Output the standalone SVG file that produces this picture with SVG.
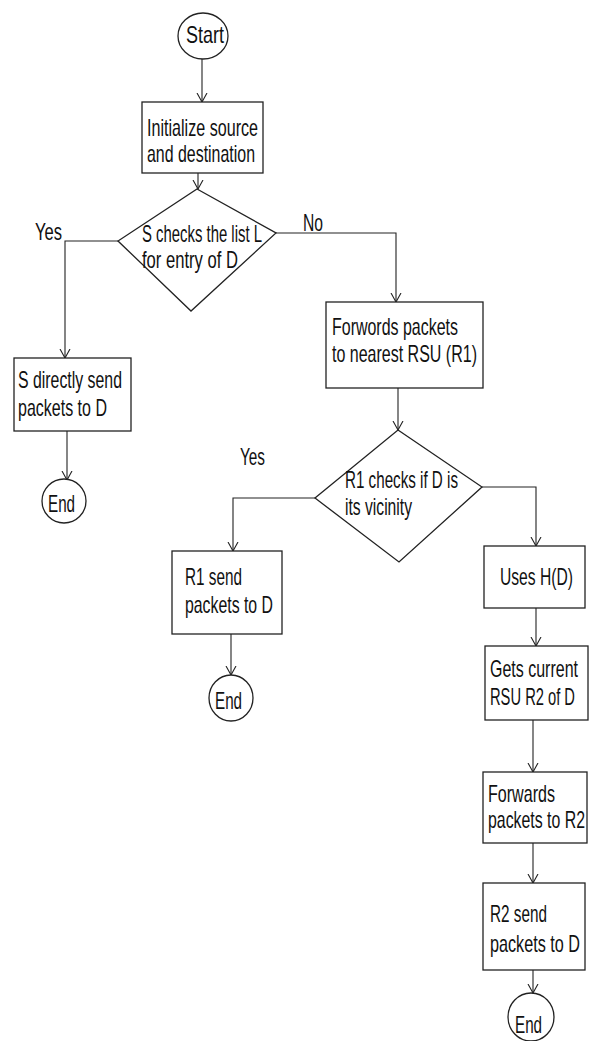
<svg xmlns="http://www.w3.org/2000/svg" width="591" height="1041" viewBox="0 0 591 1041">
<style>
.shape{fill:#fff;stroke:#222;stroke-width:1.3}
.conn{fill:none;stroke:#222;stroke-width:1.1}
text{font-family:"Liberation Sans",Arial,sans-serif;font-size:23px;fill:#111}
</style>
<defs>
<marker id="arr" markerUnits="userSpaceOnUse" viewBox="0 0 10 12" refX="9" refY="6" markerWidth="10" markerHeight="12" orient="auto">
<path d="M0,1 L9,6 L0,11" fill="none" stroke="#222" stroke-width="1.1"/>
</marker>
</defs>
<rect x="0" y="0" width="591" height="1041" fill="#fff"/>
<g id="connectors">
<path class="conn" d="M202,59 L202,102" marker-end="url(#arr)"/>
<path class="conn" d="M198,173 L198,189" marker-end="url(#arr)"/>
<path class="conn" d="M118,241 L65,241 L65,358" marker-end="url(#arr)"/>
<path class="conn" d="M276,233 L396,233 L396,302" marker-end="url(#arr)"/>
<path class="conn" d="M67,431 L67,480" marker-end="url(#arr)"/>
<path class="conn" d="M398,388 L398,430" marker-end="url(#arr)"/>
<path class="conn" d="M315,498 L233,498 L233,551" marker-end="url(#arr)"/>
<path class="conn" d="M482,487 L536,487 L536,546" marker-end="url(#arr)"/>
<path class="conn" d="M231,634 L231,675" marker-end="url(#arr)"/>
<path class="conn" d="M536,608 L536,646" marker-end="url(#arr)"/>
<path class="conn" d="M533,720 L533,772" marker-end="url(#arr)"/>
<path class="conn" d="M533,843 L533,883" marker-end="url(#arr)"/>
<path class="conn" d="M533,970 L533,993" marker-end="url(#arr)"/>
<text transform="translate(35,240) scale(0.7,1)" textLength="38.6" lengthAdjust="spacingAndGlyphs">Yes</text>
<text transform="translate(303,231) scale(0.7,1)" textLength="28.6" lengthAdjust="spacingAndGlyphs">No</text>
<text transform="translate(240,465) scale(0.7,1)" textLength="35.7" lengthAdjust="spacingAndGlyphs">Yes</text>
</g>
<g id="start">
<ellipse class="shape" cx="203" cy="36" rx="25" ry="23"/>
<text transform="translate(186,43) scale(0.7,1)" textLength="54.3" lengthAdjust="spacingAndGlyphs">Start</text>
</g>
<g id="init">
<rect class="shape" x="142" y="102" width="121" height="71"/>
<text transform="translate(147,136) scale(0.7,1)" textLength="158.6" lengthAdjust="spacingAndGlyphs">Initialize source</text>
<text transform="translate(147,162) scale(0.7,1)" textLength="154.3" lengthAdjust="spacingAndGlyphs">and destination</text>
</g>
<g id="check1">
<polygon class="shape" points="197,189 276,233 191,311 118,241"/>
<text transform="translate(142,242) scale(0.7,1)" textLength="171.4" lengthAdjust="spacingAndGlyphs">S checks the list L</text>
<text transform="translate(142,268) scale(0.7,1)" textLength="137.1" lengthAdjust="spacingAndGlyphs">for entry of D</text>
</g>
<g id="direct">
<rect class="shape" x="14" y="358" width="117" height="73"/>
<text transform="translate(18,388) scale(0.7,1)" textLength="148.6" lengthAdjust="spacingAndGlyphs">S directly send</text>
<text transform="translate(18,416) scale(0.7,1)" textLength="127.1" lengthAdjust="spacingAndGlyphs">packets to D</text>
</g>
<g id="end1">
<ellipse class="shape" cx="64" cy="501" rx="22" ry="22"/>
<text transform="translate(48,512) scale(0.7,1)" textLength="38.6" lengthAdjust="spacingAndGlyphs">End</text>
</g>
<g id="forwords">
<rect class="shape" x="326" y="302" width="157" height="86"/>
<text transform="translate(332,335) scale(0.7,1)" textLength="180" lengthAdjust="spacingAndGlyphs">Forwords packets</text>
<text transform="translate(332,362) scale(0.7,1)" textLength="207.1" lengthAdjust="spacingAndGlyphs">to nearest RSU (R1)</text>
</g>
<g id="check2">
<polygon class="shape" points="398,430 482,487 399,562 315,498"/>
<text transform="translate(345,488) scale(0.7,1)" textLength="161.4" lengthAdjust="spacingAndGlyphs">R1 checks if D is</text>
<text transform="translate(345,515) scale(0.7,1)" textLength="95.7" lengthAdjust="spacingAndGlyphs">its vicinity</text>
</g>
<g id="r1send">
<rect class="shape" x="172" y="551" width="110" height="83"/>
<text transform="translate(185,585) scale(0.7,1)" textLength="81.4" lengthAdjust="spacingAndGlyphs">R1 send</text>
<text transform="translate(185,613) scale(0.7,1)" textLength="125.7" lengthAdjust="spacingAndGlyphs">packets to D</text>
</g>
<g id="end2">
<ellipse class="shape" cx="231" cy="698" rx="22" ry="23"/>
<text transform="translate(215,709) scale(0.7,1)" textLength="38.6" lengthAdjust="spacingAndGlyphs">End</text>
</g>
<g id="uses">
<rect class="shape" x="484" y="546" width="101" height="62"/>
<text transform="translate(500,585) scale(0.7,1)" textLength="104.3" lengthAdjust="spacingAndGlyphs">Uses H(D)</text>
</g>
<g id="gets">
<rect class="shape" x="485" y="646" width="103" height="74"/>
<text transform="translate(490,677) scale(0.7,1)" textLength="125.7" lengthAdjust="spacingAndGlyphs">Gets current</text>
<text transform="translate(490,705) scale(0.7,1)" textLength="121.4" lengthAdjust="spacingAndGlyphs">RSU R2 of D</text>
</g>
<g id="forwards">
<rect class="shape" x="483" y="772" width="104" height="71"/>
<text transform="translate(488,802) scale(0.7,1)" textLength="95.7" lengthAdjust="spacingAndGlyphs">Forwards</text>
<text transform="translate(488,828) scale(0.7,1)" textLength="138.6" lengthAdjust="spacingAndGlyphs">packets to R2</text>
</g>
<g id="r2send">
<rect class="shape" x="483" y="883" width="102" height="87"/>
<text transform="translate(490,922) scale(0.7,1)" textLength="81.4" lengthAdjust="spacingAndGlyphs">R2 send</text>
<text transform="translate(490,952) scale(0.7,1)" textLength="128.6" lengthAdjust="spacingAndGlyphs">packets to D</text>
</g>
<g id="end3">
<ellipse class="shape" cx="531" cy="1017" rx="23" ry="24"/>
<text transform="translate(515,1033) scale(0.7,1)" textLength="38.6" lengthAdjust="spacingAndGlyphs">End</text>
</g>
</svg>
